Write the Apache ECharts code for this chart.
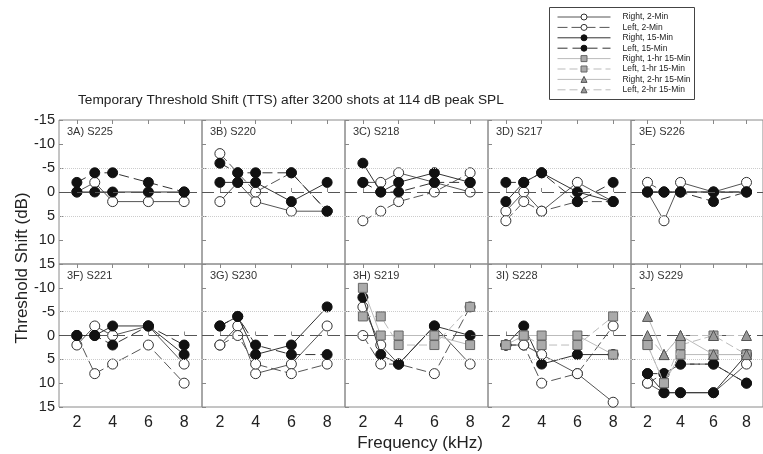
<!DOCTYPE html>
<html><head><meta charset="utf-8">
<script src="https://cdn.jsdelivr.net/npm/echarts@6/dist/echarts.min.js"></script>
<style>html,body{margin:0;padding:0;background:#fff}#c{width:763px;height:454px}</style>
</head><body><div id="c"></div>
<script>
const freqs = [2, 3, 4, 6, 8];
const xTicks = [2, 4, 6, 8];
const yTicks = [-15, -10, -5, 0, 5, 10, 15];
const panelLabels = ['3A) S225','3B) S220','3C) S218','3D) S217','3E) S226','3F) S221','3G) S230','3H) S219','3I) S228','3J) S229'];
const seriesNames = ['Right, 2-Min','Left, 2-Min','Right, 15-Min','Left, 15-Min','Right, 1-hr 15-Min','Left, 1-hr 15-Min','Right, 2-hr 15-Min','Left, 2-hr 15-Min'];
const chartTitle = 'Temporary Threshold Shift (TTS) after 3200 shots at 114 dB peak SPL';
const yName = 'Threshold Shift (dB)';
const xName = 'Frequency (kHz)';

// values per panel (A..J), one entry per frequency
const right2Min = [
  [0,-2,2,2,2], [2,-2,2,4,4], [-2,-2,-4,-2,0], [4,0,4,-2,2], [0,6,-2,0,-2],
  [2,-2,0,-2,6], [2,-2,8,6,-2], [-6,2,6,-2,6], [2,2,4,8,14], [10,12,12,12,6]
];
const left2Min = [
  null, [-8,-4,0,-4,4], [6,4,2,0,-4], [6,2,4,2,2], [-2,0,0,0,0],
  [0,8,6,2,10], [2,0,6,8,6], [0,6,6,8,-6], [2,2,10,8,-2], [10,8,6,6,10]
];
const right15Min = [
  [0,0,0,0,0], [-2,-2,-2,2,-2], [-6,0,-2,-4,-2], [2,-2,-4,0,2], [0,0,0,0,0],
  [0,0,-2,-2,4], [-2,-4,4,2,-6], [-8,4,6,-2,0], [2,-2,6,4,4], [8,12,12,12,4]
];
const left15Min = [
  [-2,-4,-4,-2,0], [-6,-4,-4,-4,4], [-2,0,0,-2,-2], [-2,-2,-4,2,-2], [0,0,0,2,0],
  [0,0,2,-2,2], [-2,-4,2,4,4], null, null, [8,8,6,6,10]
];
const right1hr = [null,null,null,null,null,null,null, [-10,0,0,0,2], [2,0,0,0,4], [2,10,4,4,4]];
const left1hr  = [null,null,null,null,null,null,null, [-4,-4,2,2,-6], [2,0,2,2,-4], [2,10,2,0,4]];
const right2hr = [null,null,null,null,null,null,null,null,null, [-4,4,0,4,4]];
const left2hr  = [null,null,null,null,null,null,null,null,null, [0,4,0,0,0]];

const allSets = [right2Min, left2Min, right15Min, left15Min, right1hr, left1hr, right2hr, left2hr];

const styles = [
  {symbol:'circle', fill:'#fff', border:'#333', line:'#555', dash:'solid'},
  {symbol:'circle', fill:'#fff', border:'#333', line:'#555', dash:[10,4]},
  {symbol:'circle', fill:'#111', border:'#111', line:'#333', dash:'solid'},
  {symbol:'circle', fill:'#111', border:'#111', line:'#333', dash:[10,5]},
  {symbol:'rect', fill:'#aaa', border:'#666', line:'#bbb', dash:'solid'},
  {symbol:'rect', fill:'#aaa', border:'#666', line:'#bbb', dash:[8,4]},
  {symbol:'triangle', fill:'#999', border:'#555', line:'#bbb', dash:'solid'},
  {symbol:'triangle', fill:'#999', border:'#555', line:'#bbb', dash:[8,4]}
];

const FONT = '"Liberation Sans", Arial, sans-serif';
const GL = 59, GW = 143, tops = [120, 264], heights = [144, 143];

const grid = [], xAxis = [], yAxis = [], series = [], titles = [];
for (let i = 0; i < 10; i++) {
  const row = Math.floor(i / 5), col = i % 5;
  const left = GL + col * GW, top = tops[row];
  grid.push({left: left, top: top, width: GW, height: heights[row], show: true, borderColor: '#8a8a8a', borderWidth: 1, containLabel: false});
  xAxis.push({type:'value', gridIndex:i, min:1, max:9, position:'bottom',
    axisLine:{show:false}, splitLine:{show:false},
    axisTick:{show:true, inside:true, length:4, customValues:xTicks, lineStyle:{color:'#888'}},
    axisLabel:{show: row === 1, customValues:xTicks, fontSize:16, color:'#222', fontFamily:FONT, margin:8}
  });
  xAxis.push({type:'value', gridIndex:i, min:1, max:9, position:'top',
    axisLine:{show:false}, splitLine:{show:false},
    axisTick:{show:true, inside:true, length:4, customValues:xTicks, lineStyle:{color:'#888'}},
    axisLabel:{show:false}
  });
  yAxis.push({type:'value', gridIndex:i, min:-15, max:15, interval:5, inverse:true,
    axisLine:{show:false}, splitLine:{show:false},
    axisTick:{show:true, inside:true, length:4, lineStyle:{color:'#888'}},
    axisLabel:{show: col === 0, fontSize:14.5, color:'#222', fontFamily:FONT, margin:4,
      formatter: function (v) { return (row === 1 && v === -15) ? '' : String(v); }}
  });
  titles.push({text: panelLabels[i], left: left + 8, top: top + 6, padding: 0,
    textStyle:{fontSize:11, fontWeight:'normal', color:'#333', fontFamily:FONT}});

  series.push({type:'line', name:'ref', xAxisIndex:2*i, yAxisIndex:i, data:[], silent:true, z:1,
    markLine:{silent:true, symbol:'none', label:{show:false}, animation:false,
      data:[
        {yAxis:0, lineStyle:{color:'#555', type:[12,6], width:1.2}},
        {yAxis:-5, lineStyle:{color:'#ccc', type:'dotted', width:1}},
        {yAxis:5, lineStyle:{color:'#ccc', type:'dotted', width:1}}
      ]}
  });

  allSets.forEach(function (set, s) {
    const vals = set[i];
    if (!vals) return;
    const st = styles[s];
    series.push({
      type:'line', name: seriesNames[s], xAxisIndex:2*i, yAxisIndex:i,
      data: freqs.map(function (f, k) { return [f, vals[k]]; }),
      symbol: st.symbol, symbolSize: st.symbol === 'rect' ? 9 : 10,
      showAllSymbol:true, z: 2 + s,
      lineStyle:{color: st.line, width:1, type: st.dash},
      itemStyle:{color: st.fill, borderColor: st.border, borderWidth:1},
      emphasis:{disabled:true}, animation:false
    });
  });
}

titles.push({text: chartTitle, left: 78, top: 93, padding:0,
  textStyle:{fontSize:13.7, fontWeight:'normal', color:'#222', fontFamily:FONT}});

const chart = echarts.init(document.getElementById('c'), null, {renderer:'canvas'});
chart.setOption({
  animation:false,
  backgroundColor:'#fff',
  title: titles,
  grid: grid, xAxis: xAxis, yAxis: yAxis, series: series,
  legend: {data: seriesNames, orient:'vertical', left:557, top:12, padding:0,
    itemWidth:53, itemHeight:7.5, itemGap:0.4, selectedMode:false,
    lineStyle:{width:1},
    itemStyle:{borderWidth:1},
    textStyle:{fontSize:8.5, color:'#222', fontFamily:FONT, lineHeight:10, padding:[0,0,0,7]}},
  graphic: [
    {type:'rect', shape:{x:549.5, y:7.5, width:145, height:92}, style:{fill:'none', stroke:'#444', lineWidth:1}, silent:true},
    {type:'text', x:22, y:268, rotation:Math.PI/2, style:{text:yName, font:'17px ' + FONT, fill:'#222', textAlign:'center', textVerticalAlign:'middle'}},
    {type:'text', x:420, y:443, style:{text:xName, font:'17px ' + FONT, fill:'#222', textAlign:'center', textVerticalAlign:'middle'}}
  ]
});
</script></body></html>
